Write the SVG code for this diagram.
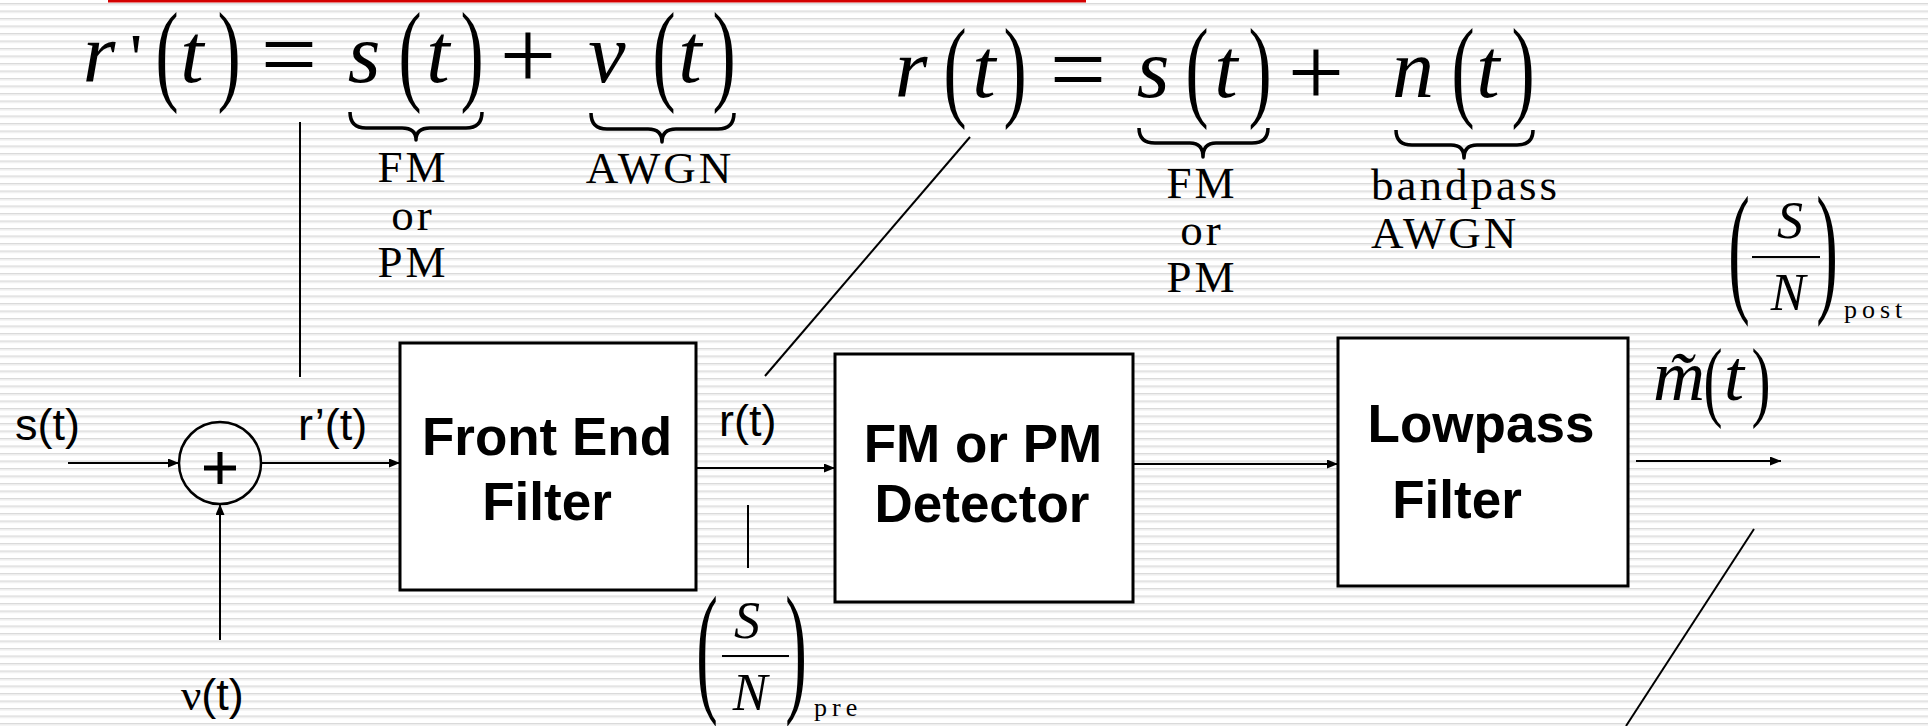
<svg xmlns="http://www.w3.org/2000/svg" width="1928" height="726" viewBox="0 0 1928 726">
<defs>
<pattern id="stripes" x="0" y="3" width="16" height="7.5" patternUnits="userSpaceOnUse">
<rect x="0" y="0" width="16" height="1.2" fill="#d9d9d9"/>
<rect x="0" y="1.2" width="16" height="1.2" fill="#eaeaea"/>
</pattern>
<marker id="arr" markerUnits="userSpaceOnUse" markerWidth="11" markerHeight="9" refX="11" refY="4.5" orient="auto">
<path d="M0,0 L11,4.5 L0,9 z" fill="#000"/>
</marker>
<style>
.ln{stroke:#000;stroke-width:2;fill:none}
.box{fill:#fff;stroke:#000;stroke-width:3}
.bl{font-family:"Liberation Sans",Arial,sans-serif;font-weight:bold;font-size:53px;text-anchor:middle}
.sl{font-family:"Liberation Sans",Arial,sans-serif;font-size:45px}
.mi{font-family:"Liberation Serif","Times New Roman",serif;font-style:italic;font-size:84px;text-anchor:middle}
.mu{font-family:"Liberation Serif","Times New Roman",serif;font-size:100px;text-anchor:middle}
.par{font-family:"Liberation Serif","Times New Roman",serif;font-size:112px;text-anchor:middle}
.lab{font-family:"Liberation Serif","Times New Roman",serif;font-size:45px;letter-spacing:3px;text-anchor:middle}
.labl{font-family:"Liberation Serif","Times New Roman",serif;font-size:45px;letter-spacing:3px}
.sub{font-family:"Liberation Serif","Times New Roman",serif;font-size:26px;letter-spacing:5px}
.fr{font-family:"Liberation Serif","Times New Roman",serif;font-style:italic;font-size:52px;text-anchor:middle}
.brace{fill:none;stroke:#000;stroke-width:3.5;stroke-linejoin:round}
</style>
</defs>
<rect width="1928" height="726" fill="#fff"/>
<rect width="1928" height="726" fill="url(#stripes)"/>
<rect x="108" y="0" width="978" height="2.5" fill="#d40000"/>

<g id="eq1">
<text class="mi" x="99" y="82">r</text>
<text class="mu" x="136" y="82" style="font-size:70px">'</text>
<text class="par" transform="translate(167,90) scale(0.62,1)">(</text>
<text class="mi" x="192" y="82">t</text>
<text class="par" transform="translate(229,90) scale(0.62,1)">)</text>
<text class="mu" x="289" y="88">=</text>
<text class="mi" x="364" y="82">s</text>
<text class="par" transform="translate(410,90) scale(0.62,1)">(</text>
<text class="mi" x="438" y="82">t</text>
<text class="par" transform="translate(472,90) scale(0.62,1)">)</text>
<text class="mu" x="528" y="89">+</text>
<text class="mi" x="607" y="82">ν</text>
<text class="par" transform="translate(664,90) scale(0.62,1)">(</text>
<text class="mi" x="690" y="82">t</text>
<text class="par" transform="translate(724,90) scale(0.62,1)">)</text>
<path class="brace" d="M350,112 Q350,128 366,128 L402,128 Q416,128 416,140 Q416,128 430,128 L466,128 Q482,128 482,112"/>
<path class="brace" d="M591,113 Q591,129 607,129 L648,129 Q662,129 662,142 Q662,129 676,129 L718,129 Q734,129 734,113"/>
<text class="lab" x="413" y="182">FM</text>
<text class="lab" x="413" y="230">or</text>
<text class="lab" x="413" y="277">PM</text>
<text class="lab" x="660" y="183">AWGN</text>
</g>

<g id="eq2">
<text class="mi" x="911" y="97">r</text>
<text class="par" transform="translate(955,106) scale(0.62,1)">(</text>
<text class="mi" x="984" y="97">t</text>
<text class="par" transform="translate(1015,106) scale(0.62,1)">)</text>
<text class="mu" x="1078" y="103">=</text>
<text class="mi" x="1153" y="97">s</text>
<text class="par" transform="translate(1197,106) scale(0.62,1)">(</text>
<text class="mi" x="1226" y="97">t</text>
<text class="par" transform="translate(1260,106) scale(0.62,1)">)</text>
<text class="mu" x="1316" y="106">+</text>
<text class="mi" x="1413" y="97">n</text>
<text class="par" transform="translate(1463,106) scale(0.62,1)">(</text>
<text class="mi" x="1488" y="97">t</text>
<text class="par" transform="translate(1523,106) scale(0.62,1)">)</text>
<path class="brace" d="M1139,128 Q1139,143 1155,143 L1190,143 Q1203,143 1203,157 Q1203,143 1216,143 L1252,143 Q1268,143 1268,128"/>
<path class="brace" d="M1396,130 Q1396,145 1412,145 L1451,145 Q1464,145 1464,158 Q1464,145 1477,145 L1517,145 Q1533,145 1533,130"/>
<text class="lab" x="1202" y="198">FM</text>
<text class="lab" x="1202" y="245">or</text>
<text class="lab" x="1202" y="292">PM</text>
<text class="labl" x="1371" y="200">bandpass</text>
<text class="labl" x="1371" y="248">AWGN</text>
</g>

<g id="snr_post">
<text class="par" transform="translate(1739,296) scale(0.45,1)" style="font-size:144px">(</text>
<text class="par" transform="translate(1827,296) scale(0.45,1)" style="font-size:144px">)</text>
<text class="fr" x="1790" y="238">S</text>
<line x1="1752" y1="257" x2="1820" y2="257" stroke="#000" stroke-width="2"/>
<text class="fr" x="1788" y="310">N</text>
<text class="sub" x="1844" y="318">post</text>
</g>

<g id="snr_pre">
<text class="par" transform="translate(707,696) scale(0.45,1)" style="font-size:144px">(</text>
<text class="par" transform="translate(796,696) scale(0.45,1)" style="font-size:144px">)</text>
<text class="fr" x="747" y="638">S</text>
<line x1="722" y1="656" x2="789" y2="656" stroke="#000" stroke-width="2"/>
<text class="fr" x="750" y="710">N</text>
<text class="sub" x="814" y="716">pre</text>
</g>

<g id="sum">
<circle cx="220" cy="463" r="41" fill="none" stroke="#000" stroke-width="2.5"/>
<line x1="204" y1="468" x2="236" y2="468" stroke="#000" stroke-width="5"/>
<line x1="220" y1="452" x2="220" y2="484" stroke="#000" stroke-width="5"/>
</g>

<g id="front_end">
<rect class="box" x="400" y="343" width="296" height="247"/>
<text class="bl" x="547" y="455">Front End</text>
<text class="bl" x="547" y="520">Filter</text>
</g>

<g id="detector">
<rect class="box" x="835" y="354" width="298" height="248"/>
<text class="bl" x="983" y="462">FM or PM</text>
<text class="bl" x="982" y="522">Detector</text>
</g>

<g id="lowpass">
<rect class="box" x="1338" y="338" width="290" height="248"/>
<text class="bl" x="1481" y="442">Lowpass</text>
<text class="bl" x="1457" y="518">Filter</text>
</g>

<g id="signal_labels">
<text class="sl" x="15" y="440">s(t)</text>
<text class="sl" x="298" y="440">r’(t)</text>
<text class="sl" x="719" y="436">r(t)</text>
<text class="sl" x="181" y="710"><tspan style="font-family:'Liberation Serif',serif">ν</tspan>(t)</text>
<text class="mi" x="1679" y="400" style="font-size:72px">m̃</text>
<text class="par" transform="translate(1713,410) scale(0.65,1)" style="font-size:88px">(</text>
<text class="mi" x="1734" y="400" style="font-size:72px">t</text>
<text class="par" transform="translate(1761,410) scale(0.65,1)" style="font-size:88px">)</text>
</g>

<g id="connectors">
<line class="ln" x1="68" y1="463" x2="179" y2="463" marker-end="url(#arr)"/>
<line class="ln" x1="220" y1="640" x2="220" y2="504" marker-end="url(#arr)"/>
<line class="ln" x1="261" y1="463" x2="400" y2="463" marker-end="url(#arr)"/>
<line class="ln" x1="696" y1="468" x2="835" y2="468" marker-end="url(#arr)"/>
<line class="ln" x1="1134" y1="464" x2="1338" y2="464" marker-end="url(#arr)"/>
<line class="ln" x1="1636" y1="461" x2="1781" y2="461" marker-end="url(#arr)"/>
<line class="ln" x1="300" y1="122" x2="300" y2="377"/>
<line class="ln" x1="765" y1="376" x2="970" y2="137"/>
<line class="ln" x1="748" y1="505" x2="748" y2="568"/>
<line class="ln" x1="1754" y1="529" x2="1626" y2="726"/>
</g>
</svg>
